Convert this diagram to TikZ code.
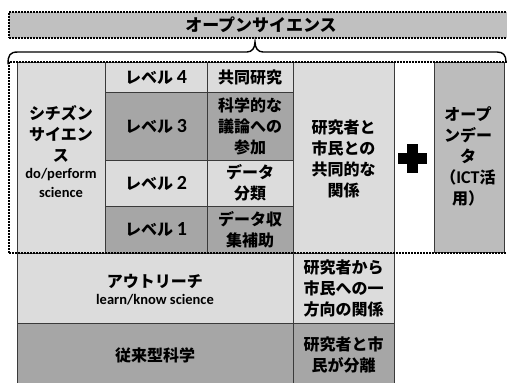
\documentclass[tikz,border=0pt]{standalone}
\usepackage{fontspec}
\setmainfont{Noto Sans CJK JP}
\newfontfamily\latfont{Carlito}
\definecolor{lightc}{HTML}{DCDCDC}
\definecolor{darkc}{HTML}{A6A6A6}
\definecolor{bannerc}{HTML}{C0C0C0}
\definecolor{odc}{HTML}{BCBCBC}
\definecolor{edgec}{HTML}{3A3A3A}
\newcommand{\lat}[1]{{\latfont\bfseries\fontsize{20}{21}\selectfont #1}}
\newcommand{\smalllat}[1]{{\latfont\bfseries\fontsize{14.5}{17}\selectfont #1}}
\begin{document}
\begin{tikzpicture}[x=1pt,y=-1pt,
  cell/.style={draw=edgec, line width=0.9pt, inner sep=0pt, align=center,
    font=\bfseries\fontsize{16}{21}\selectfont, text=black},
  plain/.style={inner sep=0pt, align=center, font=\bfseries\fontsize{16}{21}\selectfont, text=black},
  dotbox/.style={draw=black, line width=1.8pt, dash pattern=on 1.6pt off 1.4pt},
  bracepath/.style={draw=black, line width=1.4pt, line cap=round}]
\useasboundingbox (0,0) rectangle (507,383);
\clip (0,0) rectangle (507,383);
\fill[white] (0,0) rectangle (507,383);
% banner
\node[dotbox, fill=bannerc, minimum width=504pt, minimum height=26pt, inner sep=0pt,
  font=\bfseries\fontsize{17}{20}\selectfont] (banner) at (261,25) {オープンサイエンス};
% brace
\draw[bracepath] (8,64) .. controls (8,55) and (10,52) .. (18,52) -- (247,52)
  .. controls (252,52) and (255,48) .. (255,42)
  .. controls (255,48) and (258,52) .. (263,52) -- (497,52)
  .. controls (503,52) and (506,55) .. (506,62);
% citizen science column
\node[cell, fill=lightc, minimum width=88pt, minimum height=191pt] (cs) at (61,157.5) {};
\node[plain] (cstext) at (61,152) {シチズン\\サイエン\\ス\\[-4pt]\smalllat{do/perform}\\[-2pt]\smalllat{science}};
% levels
\node[cell, fill=lightc, minimum width=102pt, minimum height=30pt] (lv4) at (156,77) {レベル \lat{4}};
\node[cell, fill=darkc, minimum width=102pt, minimum height=68pt] (lv3) at (156,126) {レベル \lat{3}};
\node[cell, fill=lightc, minimum width=102pt, minimum height=46pt] (lv2) at (156,183) {レベル \lat{2}};
\node[cell, fill=darkc, minimum width=102pt, minimum height=47pt] (lv1) at (156,229.5) {レベル \lat{1}};
% activities
\node[cell, fill=lightc, minimum width=86pt, minimum height=30pt] (ac4) at (250,77) {共同研究};
\node[cell, fill=darkc, minimum width=86pt, minimum height=68pt] (ac3) at (250,126) {科学的な\\議論への\\参加};
\node[cell, fill=lightc, minimum width=86pt, minimum height=46pt] (ac2) at (250,183) {データ\\分類};
\node[cell, fill=darkc, minimum width=86pt, minimum height=47pt] (ac1) at (250,229.5) {データ収\\集補助};
% relation
\node[cell, fill=lightc, minimum width=101pt, minimum height=191pt] (rel1) at (343.5,157.5) {};
\node[plain] (rel1text) at (343.5,159) {研究者と\\市民との\\共同的な\\関係};
% plus
\node[fill=black, minimum width=29pt, minimum height=11pt, inner sep=0pt] (plush) at (412.5,158.5) {};
\node[fill=black, minimum width=11pt, minimum height=29pt, inner sep=0pt] (plusv) at (412.5,158.5) {};
% open data
\node[cell, fill=odc, minimum width=70pt, minimum height=190pt] (od) at (469,157) {};
\node[plain] (odtext) at (468,156.5) {オープ\\ンデー\\タ\\（{\latfont\bfseries\fontsize{18}{21}\selectfont ICT}活\\用）};
% outreach
\node[cell, fill=lightc, minimum width=276pt, minimum height=70pt] (out) at (155,288) {};
\node[plain] (outtext) at (155,290) {アウトリーチ\\[-4pt]\smalllat{learn/know science}};
\node[cell, fill=lightc, minimum width=101pt, minimum height=70pt] (rel2) at (343.5,288) {研究者から\\市民への一\\方向の関係};
% traditional
\node[cell, fill=darkc, minimum width=276pt, minimum height=67pt] (trad) at (155,356.5) {};
\node[plain] (tradtext) at (155,355) {従来型科学};
\node[cell, fill=darkc, minimum width=101pt, minimum height=67pt] (rel3) at (343.5,356.5) {};
\node[plain] (rel3text) at (343.5,355) {研究者と市\\民が分離};
% dotted open science frame
\node[dotbox, minimum width=503pt, minimum height=191pt, inner sep=0pt] (osframe) at (260.5,157.5) {};
\end{tikzpicture}
\end{document}
